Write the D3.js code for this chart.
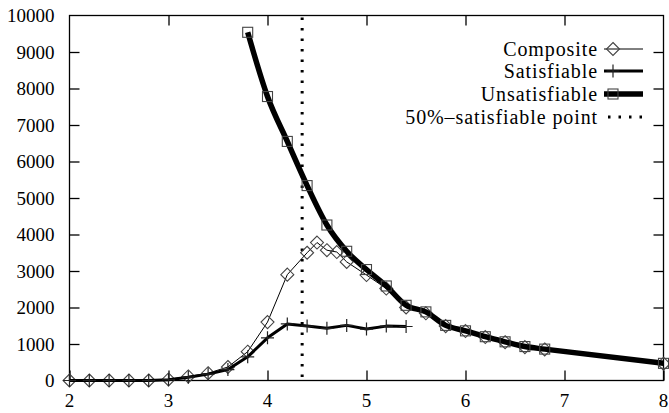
<!DOCTYPE html>
<html>
<head>
<meta charset="utf-8">
<script src="https://cdn.jsdelivr.net/npm/d3@7"></script>
</head>
<body style="margin:0">
<script>
// Composite: all instances
var compX = [2.0, 2.2, 2.4, 2.6, 2.8, 3.0, 3.2, 3.4, 3.6, 3.8, 4.0, 4.2, 4.4, 4.5, 4.6, 4.7, 4.8, 5.0, 5.2, 5.4, 5.6, 5.8, 6.0, 6.2, 6.4, 6.6, 6.8, 8.0];
var compY = [0, 0, 0, 0, 0, 30, 110, 200, 370, 790, 1600, 2900, 3500, 3780, 3570, 3520, 3250, 2890, 2520, 2000, 1840, 1490, 1355, 1190, 1050, 915, 850, 460];

// Satisfiable instances
var satX = [2.0, 2.2, 2.4, 2.6, 2.8, 3.0, 3.2, 3.4, 3.6, 3.8, 4.0, 4.2, 4.4, 4.6, 4.8, 5.0, 5.2, 5.4];
var satY = [0, 0, 0, 0, 0, 20, 90, 175, 300, 650, 1170, 1550, 1490, 1430, 1510, 1410, 1490, 1480];

// Unsatisfiable instances
var unsatX = [3.8, 4.0, 4.2, 4.4, 4.6, 4.8, 5.0, 5.2, 5.4, 5.6, 5.8, 6.0, 6.2, 6.4, 6.6, 6.8, 8.0];
var unsatY = [9540, 7780, 6550, 5340, 4260, 3540, 3040, 2590, 2060, 1880, 1510, 1360, 1200, 1060, 930, 860, 470];

var halfPoint = 4.35;

var xTicks = [2, 3, 4, 5, 6, 7, 8];
var yTicks = [0, 1000, 2000, 3000, 4000, 5000, 6000, 7000, 8000, 9000, 10000];

var legendNames = ["Composite", "Satisfiable", "Unsatisfiable", "50%\u2013satisfiable point"];

var width = 669;
var height = 413;
var margin = ({ top: 15.5, right: 5.5, bottom: 32.5, left: 69.5 });

var svg = d3.select("body")
    .append("svg")
    .attr("width", width)
    .attr("height", height)
    .style("font-family", "'Liberation Serif'");

var x = d3.scaleLinear()
    .domain([2, 8])
    .range([margin.left, width - margin.right]);
var y = d3.scaleLinear()
    .domain([0, 10000])
    .range([height - margin.bottom, margin.top]);

var tickLen = 10;

// axes with inward ticks, mirrored on the other sides
svg.append("g")
    .attr("transform", `translate(0,${height - margin.bottom})`)
    .call(d3.axisTop(x).tickValues(xTicks).tickSize(tickLen).tickFormat(""))
    .call(g => g.select(".domain").remove());
svg.append("g")
    .attr("transform", `translate(0,${margin.top})`)
    .call(d3.axisBottom(x).tickValues(xTicks.slice(1, -1)).tickSize(tickLen).tickFormat(""))
    .call(g => g.select(".domain").remove());
svg.append("g")
    .attr("transform", `translate(${margin.left},0)`)
    .call(d3.axisRight(y).tickValues(yTicks.slice(1, -1)).tickSize(tickLen).tickFormat(""))
    .call(g => g.select(".domain").remove());
svg.append("g")
    .attr("transform", `translate(${width - margin.right},0)`)
    .call(d3.axisLeft(y).tickValues(yTicks.slice(1, -1)).tickSize(tickLen).tickFormat(""))
    .call(g => g.select(".domain").remove());
svg.selectAll(".tick line").attr("stroke", "#000").attr("stroke-width", 1.3);

// tick labels
svg.selectAll("text.xl")
    .data(xTicks)
    .join("text")
      .attr("class", "xl")
      .attr("x", d => x(d))
      .attr("y", height - 6)
      .attr("text-anchor", "middle")
      .style("font-size", "19px")
      .text(d => d);
svg.selectAll("text.yl")
    .data(yTicks)
    .join("text")
      .attr("class", "yl")
      .attr("x", margin.left - 15)
      .attr("y", d => y(d))
      .attr("dy", "0.35em")
      .attr("text-anchor", "end")
      .style("font-size", "19px")
      .text(d => d);

// frame
svg.append("rect")
    .attr("x", margin.left)
    .attr("y", margin.top)
    .attr("width", width - margin.left - margin.right)
    .attr("height", height - margin.top - margin.bottom)
    .attr("fill", "none")
    .attr("stroke", "#000")
    .attr("stroke-width", 1.3);

// 50% satisfiable point
svg.append("line")
    .attr("x1", x(halfPoint))
    .attr("x2", x(halfPoint))
    .attr("y1", y(10000) + 2)
    .attr("y2", y(0))
    .attr("stroke", "#000")
    .attr("stroke-width", 3)
    .attr("stroke-dasharray", "2.5,8");

// marker shapes
function diamond(g, cx, cy) {
    g.append("path")
        .attr("d", `M${cx},${cy - 6.5}L${cx + 6.5},${cy}L${cx},${cy + 6.5}L${cx - 6.5},${cy}Z`)
        .attr("fill", "none").attr("stroke", "#444").attr("stroke-width", 1.1);
}
function plus(g, cx, cy) {
    g.append("path")
        .attr("d", `M${cx - 6.5},${cy}H${cx + 6.5}M${cx},${cy - 6.5}V${cy + 6.5}`)
        .attr("fill", "none").attr("stroke", "#222").attr("stroke-width", 1.2);
}
function square(g, cx, cy) {
    g.append("rect")
        .attr("x", cx - 5).attr("y", cy - 5).attr("width", 10).attr("height", 10)
        .attr("fill", "none").attr("stroke", "#444").attr("stroke-width", 1.1);
}

var series = [
    { xs: compX, ys: compY, w: 1, mark: diamond, curve: d3.curveLinear },
    { xs: satX, ys: satY, w: 3, mark: plus, curve: d3.curveLinear },
    { xs: unsatX, ys: unsatY, w: 5.5, mark: square, curve: d3.curveMonotoneX }
];

series.forEach(s => {
    var pts = s.xs.map((v, i) => [v, s.ys[i]]);
    var line = d3.line().x(d => x(d[0])).y(d => y(d[1])).curve(s.curve);
    svg.append("path")
        .attr("d", line(pts))
        .attr("fill", "none")
        .attr("stroke", "#000")
        .attr("stroke-width", s.w)
        .attr("stroke-linejoin", "round");
    var g = svg.append("g");
    pts.forEach(d => s.mark(g, x(d[0]), y(d[1])));
});

// legend
var rowY = [49, 71, 94, 117];
var lineW = [1, 3, 5.5, 3];
var marks = [diamond, plus, square, null];
legendNames.forEach((name, i) => {
    svg.append("text")
        .attr("x", 598)
        .attr("y", rowY[i])
        .attr("dy", "0.35em")
        .attr("text-anchor", "end")
        .style("font-size", "20px")
        .style("letter-spacing", "0.9px")
        .text(name);
    var l = svg.append("line")
        .attr("x1", 604).attr("x2", 643)
        .attr("y1", rowY[i]).attr("y2", rowY[i])
        .attr("stroke", "#000")
        .attr("stroke-width", lineW[i]);
    if (i == 3) l.attr("stroke-dasharray", "2.5,8").attr("x1", 608);
    if (marks[i]) marks[i](svg, 613, rowY[i]);
});
</script>
</body>
</html>
